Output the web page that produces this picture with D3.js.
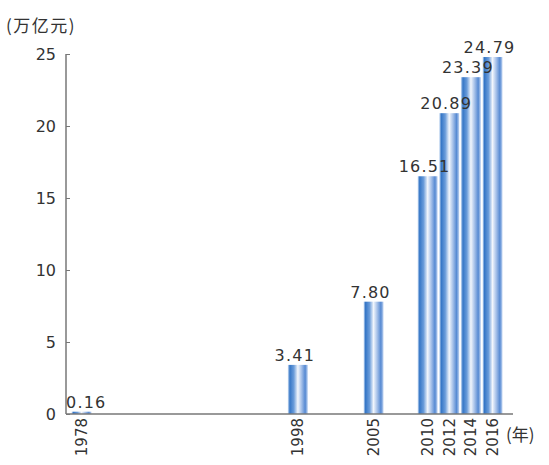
<!DOCTYPE html>
<html><head><meta charset="utf-8">
<script src="https://cdn.jsdelivr.net/npm/d3@7"></script>
<style>body{margin:0;background:#fff}</style></head>
<body><svg id="c" width="549" height="465"></svg>
<script>
const years = [1978, 1998, 2005, 2010, 2012, 2014, 2016];
const values = [0.16, 3.41, 7.80, 16.51, 20.89, 23.39, 24.79];
const valueLabels = ["0.16", "3.41", "7.80", "16.51", "20.89", "23.39", "24.79"];
const yTicks = [0, 5, 10, 15, 20, 25];

const svg = d3.select("#c");
const x = d3.scaleLinear().domain([1978, 2016]).range([81.5, 492.5]);
const y = d3.scaleLinear().domain([0, 25]).range([414, 54]);
const bw = 20;

const defs = svg.append("defs");
const g = defs.append("linearGradient").attr("id", "bg").attr("x1", "0").attr("x2", "1").attr("y1", "0").attr("y2", "0");
[[0, "#d4e3f6"], [0.1, "#3576c6"], [0.3, "#6a9cda"], [0.5, "#f2f6fc"], [0.7, "#9fbce7"], [0.87, "#5589d2"], [1, "#c3d6f2"]]
  .forEach(([o, c]) => g.append("stop").attr("offset", o).attr("stop-color", c));

const font = "'DejaVu Sans', sans-serif";

// bars
svg.selectAll("rect.bar").data(years).join("rect").attr("class", "bar")
  .attr("x", d => x(d) - bw / 2).attr("width", bw)
  .attr("y", (d, i) => y(values[i])).attr("height", (d, i) => y(0) - y(values[i]))
  .attr("fill", "url(#bg)");

// axes
const yAxis = d3.axisLeft(y).tickValues(yTicks).tickSize(-4).tickPadding(10);
const ya = svg.append("g").attr("transform", "translate(66,0)").call(yAxis);
ya.select(".domain").attr("d", "M0,54V414").attr("stroke", "#777").attr("stroke-width", 1.5);
ya.selectAll(".tick line").attr("stroke", "#777");
ya.selectAll(".tick text").attr("font-family", font).attr("font-size", 16).attr("fill", "#333");

svg.append("line").attr("x1", 66).attr("x2", 513).attr("y1", 414).attr("y2", 414)
  .attr("stroke", "#777").attr("stroke-width", 1.5);

// x labels (rotated)
svg.selectAll("text.xl").data(years).join("text").attr("class", "xl")
  .attr("transform", d => `translate(${x(d) + 5.5},418) rotate(-90)`)
  .attr("text-anchor", "end").attr("font-family", font).attr("font-size", 15)
  .attr("fill", "#333").text(d => d);

// value labels
svg.selectAll("text.vl").data(years).join("text").attr("class", "vl")
  .attr("x", (d, i) => i === 0 ? 66 : x(d) - 3)
  .attr("y", (d, i) => y(values[i]) - 4)
  .attr("text-anchor", (d, i) => i === 0 ? "start" : "middle")
  .attr("font-family", font).attr("font-size", 16).attr("fill", "#333")
  .attr("letter-spacing", 1.2)
  .text((d, i) => valueLabels[i]);

// units
svg.append("text").attr("x", 6).attr("y", 32).attr("font-family", "'Noto Sans CJK SC', sans-serif")
  .attr("font-size", 17).attr("letter-spacing", 1.5).attr("fill", "#333").text("(万亿元)");
svg.append("text").attr("x", 506).attr("y", 441).attr("font-family", "'Noto Sans CJK SC', sans-serif")
  .attr("font-size", 17).attr("fill", "#333").text("(年)");
</script></body></html>
